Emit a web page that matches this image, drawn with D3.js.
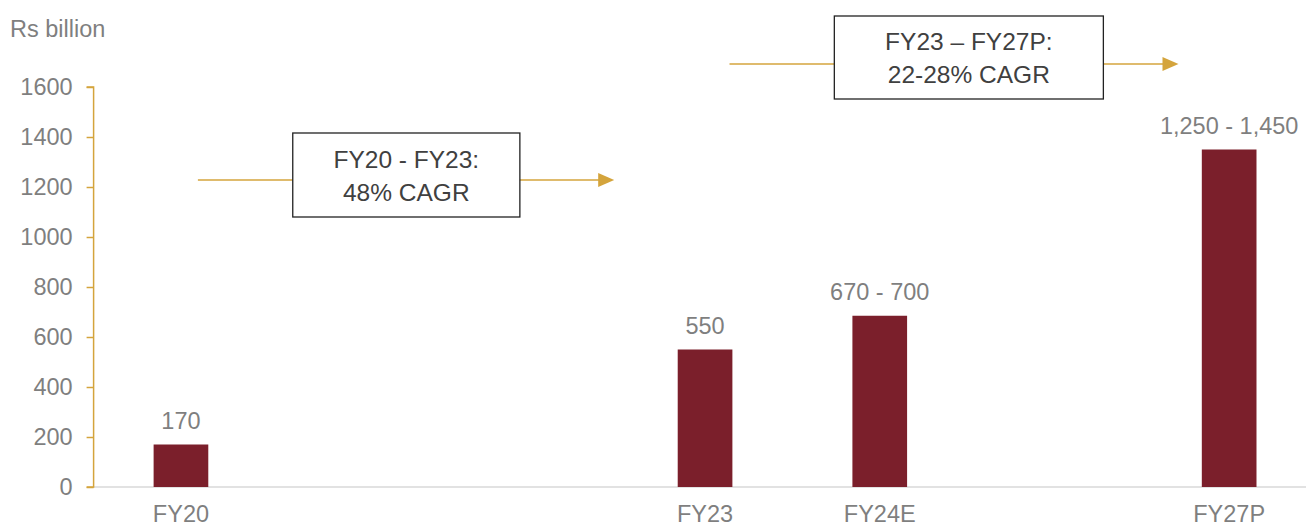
<!DOCTYPE html>
<html><head><meta charset="utf-8">
<script src="https://cdn.jsdelivr.net/npm/d3@7"></script>
<style>
html,body{margin:0;padding:0;background:#fff;}
svg{display:block;font-family:"Liberation Sans",Arial,sans-serif;}
</style></head>
<body><svg id="c" width="1306" height="524"></svg>
<script>
// ---- data ----
const slots = ["FY20","s1","s2","FY23","FY24E","s3","FY27P"];
const slotLabels = ["FY20","","","FY23","FY24E","","FY27P"];
const barCategories = ["FY20","FY23","FY24E","FY27P"];
const barValues = [170, 550, 685, 1350];
const barLabels = ["170","550","670 - 700","1,250 - 1,450"];
const yTicks = [0,200,400,600,800,1000,1200,1400,1600];
const yUnit = "Rs billion";
// annotations: [fromSlot, toSlot] in slot index units, y value, box span and text
const annotations = [
  {from: 0.097, to: 2.48, y: 1228, boxFrom: 0.64, boxTo: 1.94, boxTop: 1416, boxBottom: 1080, lines: ["FY20 - FY23:", "48% CAGR"]},
  {from: 3.14, to: 5.71, y: 1692, boxFrom: 3.74, boxTo: 5.28, boxTop: 1884, boxBottom: 1552, lines: ["FY23 \u2013 FY27P:", "22-28% CAGR"]}
];

const gold = "#D4A43C", barColor = "#7B1F2B", grey = "#7F7F7F";
const FS = 23.5;
const svg = d3.select("#c");
const x0 = 93.6, x1 = 1316.5, yBottom = 487, yTop = 87;
const x = d3.scaleBand().domain(slots).range([x0, x1]).padding(0);
const y = d3.scaleLinear().domain([0, 1600]).range([yBottom, yTop]);
const step = x.step();
const xi = i => x0 + step * (i + 0.5);
const barW = step * 0.313;

// baseline
svg.append("line").attr("x1", x0).attr("x2", x1).attr("y1", y(0)).attr("y2", y(0))
  .attr("stroke", "#d9d9d9").attr("stroke-width", 1.5);

// y axis
const yAxis = d3.axisLeft(y).tickValues(yTicks).tickSize(7).tickPadding(14).tickFormat(d3.format("d"));
const ga = svg.append("g").attr("transform", `translate(${x0},0)`).call(yAxis);
ga.select(".domain").attr("stroke", gold).attr("stroke-width", 1.5).attr("d", `M-7,${yTop}H0V${yBottom}H-7`);
ga.selectAll(".tick line").attr("stroke", gold).attr("stroke-width", 1.5);
ga.selectAll(".tick text").attr("fill", grey).attr("font-size", FS).attr("font-family", "Liberation Sans, Arial, sans-serif");

// x axis labels
const xAxis = d3.axisBottom(x).tickSize(0).tickPadding(18).tickFormat((d, i) => slotLabels[i]);
const gx = svg.append("g").attr("transform", `translate(0,${yBottom})`).call(xAxis);
gx.select(".domain").remove();
gx.selectAll(".tick text").attr("fill", grey).attr("font-size", FS).attr("font-family", "Liberation Sans, Arial, sans-serif");

// bars
svg.selectAll("rect.bar").data(barValues).join("rect").attr("class", "bar")
  .attr("x", (d, i) => x(barCategories[i]) + step / 2 - barW / 2)
  .attr("width", barW)
  .attr("y", d => y(d))
  .attr("height", d => y(0) - y(d))
  .attr("fill", barColor);

svg.selectAll("text.vl").data(barValues).join("text").attr("class", "vl")
  .attr("x", (d, i) => x(barCategories[i]) + step / 2)
  .attr("y", d => y(d) - 16)
  .attr("text-anchor", "middle").attr("font-size", FS).attr("fill", grey)
  .text((d, i) => barLabels[i]);

// unit
svg.append("text").attr("x", 10).attr("y", 37).attr("font-size", FS).attr("fill", grey).text(yUnit);

// annotations
annotations.forEach(a => {
  const ay = y(a.y);
  const bx0 = xi(a.boxFrom), bx1 = xi(a.boxTo);
  const tip = xi(a.to);
  svg.append("line").attr("x1", xi(a.from)).attr("x2", tip - 14).attr("y1", ay).attr("y2", ay)
    .attr("stroke", gold).attr("stroke-width", 1.5);
  svg.append("path").attr("d", `M${tip - 16},${ay - 7}L${tip},${ay}L${tip - 16},${ay + 7}Z`).attr("fill", gold);
  const by0 = y(a.boxTop), by1 = y(a.boxBottom);
  svg.append("rect").attr("x", bx0).attr("y", by0).attr("width", bx1 - bx0).attr("height", by1 - by0)
    .attr("fill", "#fff").attr("stroke", "#222").attr("stroke-width", 1.3);
  const cx = (bx0 + bx1) / 2, cy = (by0 + by1) / 2;
  a.lines.forEach((t, i) => {
    svg.append("text").attr("x", cx).attr("y", cy + (i === 0 ? -16 : 17)).attr("dy", "0.35em")
      .attr("text-anchor", "middle").attr("font-size", 24.5).attr("fill", "#404040").text(t);
  });
});
</script></body></html>
